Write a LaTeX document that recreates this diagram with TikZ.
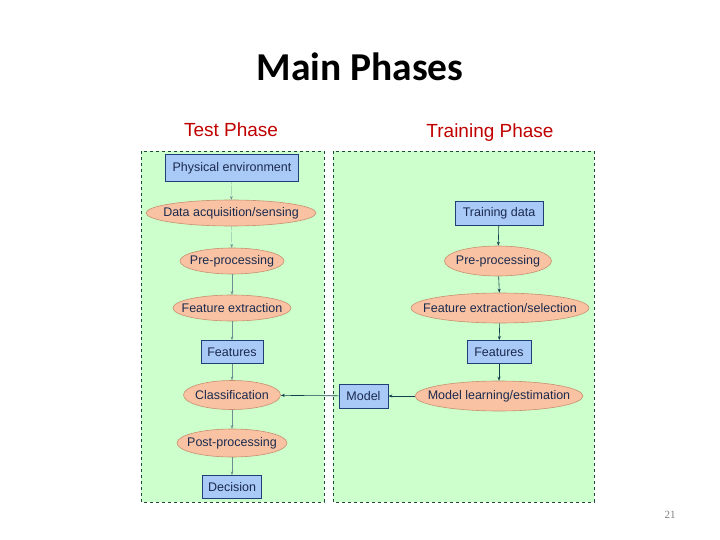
\documentclass[tikz,border=0pt]{standalone}
\usepackage{fontspec}
\setmainfont{Liberation Sans}
\newfontfamily\titlefont{Carlito}
\newfontfamily\numfont{Liberation Serif}
\usetikzlibrary{shapes.geometric,arrows.meta}
\definecolor{panelgreen}{HTML}{CCFFCC}
\definecolor{panelborder}{HTML}{1F4A3A}
\definecolor{boxblue}{HTML}{A9C9F7}
\definecolor{boxborder}{HTML}{1F3F78}
\definecolor{ellfill}{HTML}{F9C3A3}
\definecolor{ellborder}{HTML}{C89070}
\definecolor{nodetext}{HTML}{1B2A4E}
\definecolor{arrowcol}{HTML}{0F3F4A}
\definecolor{phasered}{HTML}{C00000}
\begin{document}
\begin{tikzpicture}[x=1pt,y=-1pt,
  panel/.style={draw=panelborder,fill=panelgreen,dashed,line width=0.7pt},
  rbox/.style={draw=boxborder,fill=boxblue,line width=0.8pt,minimum height=24pt,inner sep=0pt,text=nodetext,font=\fontsize{12.5}{14}\selectfont},
  ell/.style={ellipse,draw=ellborder,fill=ellfill,line width=0.6pt,inner xsep=-60pt,inner ysep=-10pt,minimum height=27pt,text=nodetext,font=\fontsize{12.5}{14}\selectfont},
  arr/.style={-{Stealth[length=4pt,width=3pt]},draw=arrowcol,line width=0.6pt},
  thinarr/.style={-{Stealth[length=3.5pt,width=2.6pt]},draw=arrowcol!60,line width=0.2pt},
  phase/.style={font=\fontsize{19}{22}\selectfont,text=phasered}
]
\useasboundingbox (0,0) rectangle (720,540);
\node[font=\titlefont\bfseries\fontsize{39.5}{46}\selectfont] (title) at (360,67) {Main Phases};
\node[phase] (testlbl) at (231,130) {Test Phase};
\node[phase] (trainlbl) at (490,133) {Training Phase};
\node[text=gray,font=\numfont\fontsize{11}{13}\selectfont] (pnum) at (670,515) {21};

\path[panel] (141,151) rectangle (324,502);
\path[panel] (333,151) rectangle (594,502);

% left column
\node[rbox,minimum width=133pt,minimum height=27pt] (pe) at (232,168) {Physical environment};
\node[ell,minimum width=170pt,minimum height=26pt] (da) at (231,213) {Data acquisition/sensing};
\node[ell,minimum width=104pt,minimum height=26pt] (pp1) at (232,261) {Pre-processing};
\node[ell,minimum width=118pt,minimum height=26pt] (fe1) at (232,308) {Feature extraction};
\node[rbox,minimum width=62pt,minimum height=23pt] (f1) at (232,352) {Features};
\node[ell,minimum width=97pt,minimum height=29pt] (cl) at (232,395) {Classification};
\node[ell,minimum width=110pt,minimum height=28pt] (po) at (232,443) {Post-processing};
\node[rbox,minimum width=59pt,minimum height=23pt] (de) at (232,487) {Decision};

% right column
\node[rbox,minimum width=88pt] (td) at (499,213) {Training data};
\node[ell,minimum width=107pt,minimum height=30pt] (pp2) at (498,261) {Pre-processing};
\node[ell,minimum width=178pt,minimum height=30pt] (fe2) at (500,308) {Feature extraction/selection};
\node[rbox,minimum width=64pt,minimum height=23pt] (f2) at (499,352) {Features};
\node[ell,minimum width=168pt,minimum height=30pt] (ml) at (499,396) {Model learning/estimation};
\node[rbox,minimum width=49pt] (mo) at (363.5,396) {Model};

% arrows left
\draw[thinarr] (pe) -- (da);
\draw[thinarr] (da) -- (pp1);
\draw[thinarr] (pp1) -- (fe1);
\draw[thinarr] (fe1) -- (f1);
\draw[thinarr] (f1) -- (cl);
\draw[thinarr] (cl) -- (po);
\draw[thinarr] (po) -- (de);
% arrows right
\draw[arr] (td) -- (pp2);
\draw[arr] (pp2) -- (fe2);
\draw[arr] (fe2) -- (f2);
\draw[arr] (f2) -- (ml);
\draw[arr] (ml) -- (mo);
\draw[arr] (mo) -- (cl);
\end{tikzpicture}
\end{document}
